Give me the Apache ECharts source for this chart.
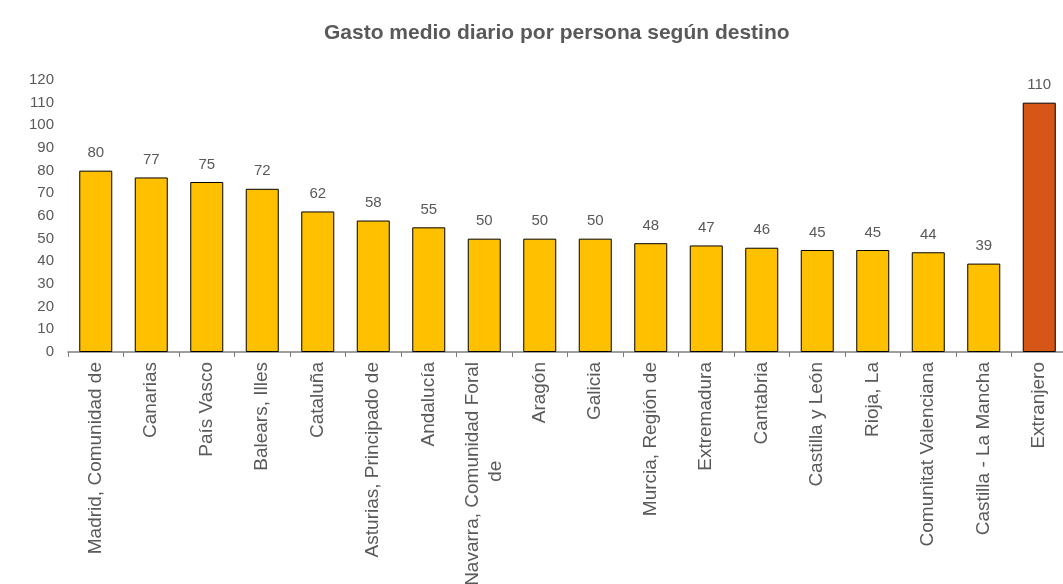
<!DOCTYPE html>
<html><head><meta charset="utf-8">
<script src="https://cdn.jsdelivr.net/npm/echarts@6/dist/echarts.min.js"></script>
<style>html,body{margin:0;padding:0;background:#fff}#c{width:1063px;height:584px}</style>
</head><body><div id="c"></div>
<script>
var categories = ["Madrid, Comunidad de","Canarias","País Vasco","Balears, Illes","Cataluña","Asturias, Principado de","Andalucía","Navarra, Comunidad Foral de","Aragón","Galicia","Murcia, Región de","Extremadura","Cantabria","Castilla y León","Rioja, La","Comunitat Valenciana","Castilla - La Mancha","Extranjero"];
var values = [80,77,75,72,62,58,55,50,50,50,48,47,46,45,45,44,39,110];
var highlight = ["Extranjero"];
var labelFont = '19px "Liberation Sans", Arial';
var cvs = document.createElement('canvas').getContext('2d');
cvs.font = labelFont;
var maxLabelW = 225;
var xData = categories.map(function(c){
  var w = cvs.measureText(c).width;
  if (w <= maxLabelW) return c;
  // find first wrapped line width
  var words = c.split(' '), line = '', first = '';
  for (var i = 0; i < words.length; i++) {
    var t = line ? line + ' ' + words[i] : words[i];
    if (cvs.measureText(t).width > maxLabelW) { first = line; break; }
    line = t;
  }
  var w1 = cvs.measureText(first).width;
  return {value:c, textStyle:{align:'center', padding:[0, w1, 0, 0]}};
});
var chart = echarts.init(document.getElementById('c'));
chart.setOption({
  animation:false,
  title:{text:"Gasto medio diario por persona según destino",left:319,top:18,
    textStyle:{fontFamily:'Liberation Sans, Arial',fontSize:21,fontWeight:'bold',color:'#595959'}},
  grid:{left:68,top:80,width:999,height:272,outerBoundsMode:'none',containLabel:false},
  xAxis:{type:'category',data:xData,
    axisLine:{lineStyle:{color:'#7f7f7f',width:1.5}},
    axisTick:{show:true,length:5,lineStyle:{color:'#7f7f7f'}},
    axisLabel:{rotate:90,interval:0,margin:10,fontFamily:'Liberation Sans, Arial',fontSize:19,color:'#595959',
      width:maxLabelW,overflow:'break',lineHeight:23}},
  yAxis:{type:'value',min:0,max:120,interval:10,
    splitLine:{show:false},axisLine:{show:false},axisTick:{show:false},
    axisLabel:{margin:14,fontFamily:'Liberation Sans, Arial',fontSize:15,color:'#595959'}},
  series:[{type:'bar',barWidth:33,
    data:values.map(function(v,i){return {value:v,itemStyle:{color:highlight.indexOf(categories[i])>=0?'#D55617':'#FFC000'}};}),
    itemStyle:{borderColor:'#000',borderWidth:1},
    label:{show:true,position:'top',distance:10,fontFamily:'Liberation Sans, Arial',fontSize:15,color:'#595959'}}]
});
</script></body></html>
